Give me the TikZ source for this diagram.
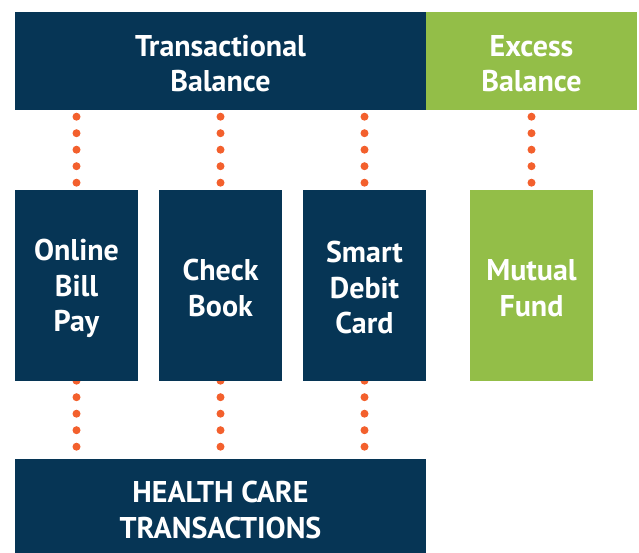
\documentclass[tikz,border=0pt]{standalone}
\usepackage{fontspec}
\setmainfont{PT Sans}
\usetikzlibrary{backgrounds}
\definecolor{navy}{RGB}{6,53,85}
\definecolor{leaf}{RGB}{147,190,72}
\definecolor{dotc}{RGB}{243,96,45}
\newcommand{\lowerstrut}{\rule{0pt}{26pt}}
\begin{document}
\begin{tikzpicture}[x=1pt,y=-1pt,
  box/.style={inner sep=0pt, outer sep=0pt, text=white, align=center,
    font=\bfseries\fontsize{30}{35.5}\selectfont},
  navybox/.style={box, fill=navy},
  leafbox/.style={box, fill=leaf},
  dotline/.style={dotc, line width=8pt, line cap=round,
    dash pattern=on 0pt off 16.5pt, dash phase=9.8pt}]
\useasboundingbox (0,0) rectangle (639,553);
\node[navybox, minimum width=411pt, minimum height=98pt] (tb) at (220.5,61) {\lowerstrut Transactional\\Balance};
\node[leafbox, minimum width=211pt, minimum height=98pt] (eb) at (531.5,61) {\lowerstrut Excess\\Balance};
\node[navybox, minimum width=123pt, minimum height=191pt] (ob) at (76.5,285.5) {\rule{0pt}{28pt}Online\\Bill\\Pay};
\node[navybox, minimum width=123pt, minimum height=191pt] (cb) at (220.5,285.5) {\lowerstrut Check\\Book};
\node[navybox, minimum width=123pt, minimum height=191pt] (sd) at (364.5,285.5) {\lowerstrut Smart\\Debit\\Card};
\node[leafbox, minimum width=123pt, minimum height=191pt] (mf) at (531.5,285.5) {\lowerstrut Mutual\\Fund};
\node[navybox, minimum width=411pt, minimum height=94pt] (hc) at (220.5,506) {\rule{0pt}{29pt}HEALTH CARE\\TRANSACTIONS};
\begin{scope}[on background layer]
\draw[dotline] (ob.north |- tb.south) -- (ob.south |- hc.north);
\draw[dotline] (cb.north |- tb.south) -- (cb.south |- hc.north);
\draw[dotline] (sd.north |- tb.south) -- (sd.south |- hc.north);
\draw[dotline] (mf.north |- eb.south) -- (mf.north);
\end{scope}
\end{tikzpicture}
\end{document}
